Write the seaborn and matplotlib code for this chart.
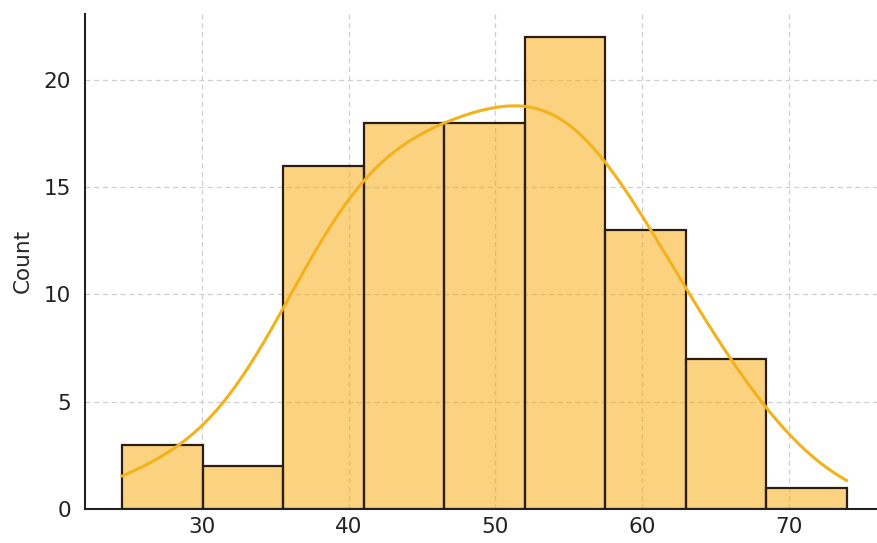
import numpy as np
import pandas as pd
import matplotlib
matplotlib.use("Agg")
import matplotlib.pyplot as plt
import seaborn as sns

# Binned scores: bin edges and the count in each bin
bin_edges = [24.55, 30.04, 35.52, 41.01, 46.50, 51.99, 57.47, 62.96, 68.45, 73.94]
counts = [3, 2, 16, 18, 18, 22, 13, 7, 1]
x_ticks = [30, 40, 50, 60, 70]
y_ticks = [0, 5, 10, 15, 20]

centers = [(a + b) / 2 for a, b in zip(bin_edges[:-1], bin_edges[1:])]
df = pd.DataFrame({"value": centers, "count": counts})

sns.set_style("white")
plt.rcParams["font.family"] = ["DejaVu Sans"]

fig = plt.figure(figsize=(8.77, 5.43), dpi=100)
ax = fig.add_axes([85 / 877, 34 / 543, (877 - 85) / 877, (509 - 13.5) / 543])

bar_color = "#F8AC0C"
sns.histplot(
    data=df, x="value", weights="count", bins=bin_edges, kde=True,
    color=bar_color, alpha=0.52, edgecolor="#2b1d12", linewidth=1.6,
    line_kws={"linewidth": 2.2},
    kde_kws={"cut": 3, "clip": (bin_edges[0], bin_edges[-1]), "bw_adjust": 0.7},
    ax=ax,
)
for line in ax.lines:
    line.set_color("#F2B21C")

ax.set_xlim(22.03, 76.0)
ax.set_ylim(0, 23.1)
ax.set_xticks(x_ticks)
ax.set_yticks(y_ticks)
ax.set_xlabel("")
ax.set_ylabel("Count", fontsize=15.5, labelpad=8)
ax.tick_params(axis="x", direction="in", length=7, width=1.2, labelsize=15.5,
               colors="#222222", pad=6)
ax.tick_params(axis="y", direction="out", length=6, width=1.2, labelsize=15.5,
               colors="#222222", pad=4)
ax.grid(True, linestyle=(0, (4, 3)), color="#cfcfcf", linewidth=0.9)
ax.set_axisbelow(True)
for side in ("top", "right"):
    ax.spines[side].set_visible(False)
for side in ("left", "bottom"):
    ax.spines[side].set_color("#222222")
    ax.spines[side].set_linewidth(1.5)

fig.savefig("out.png", dpi=100)
